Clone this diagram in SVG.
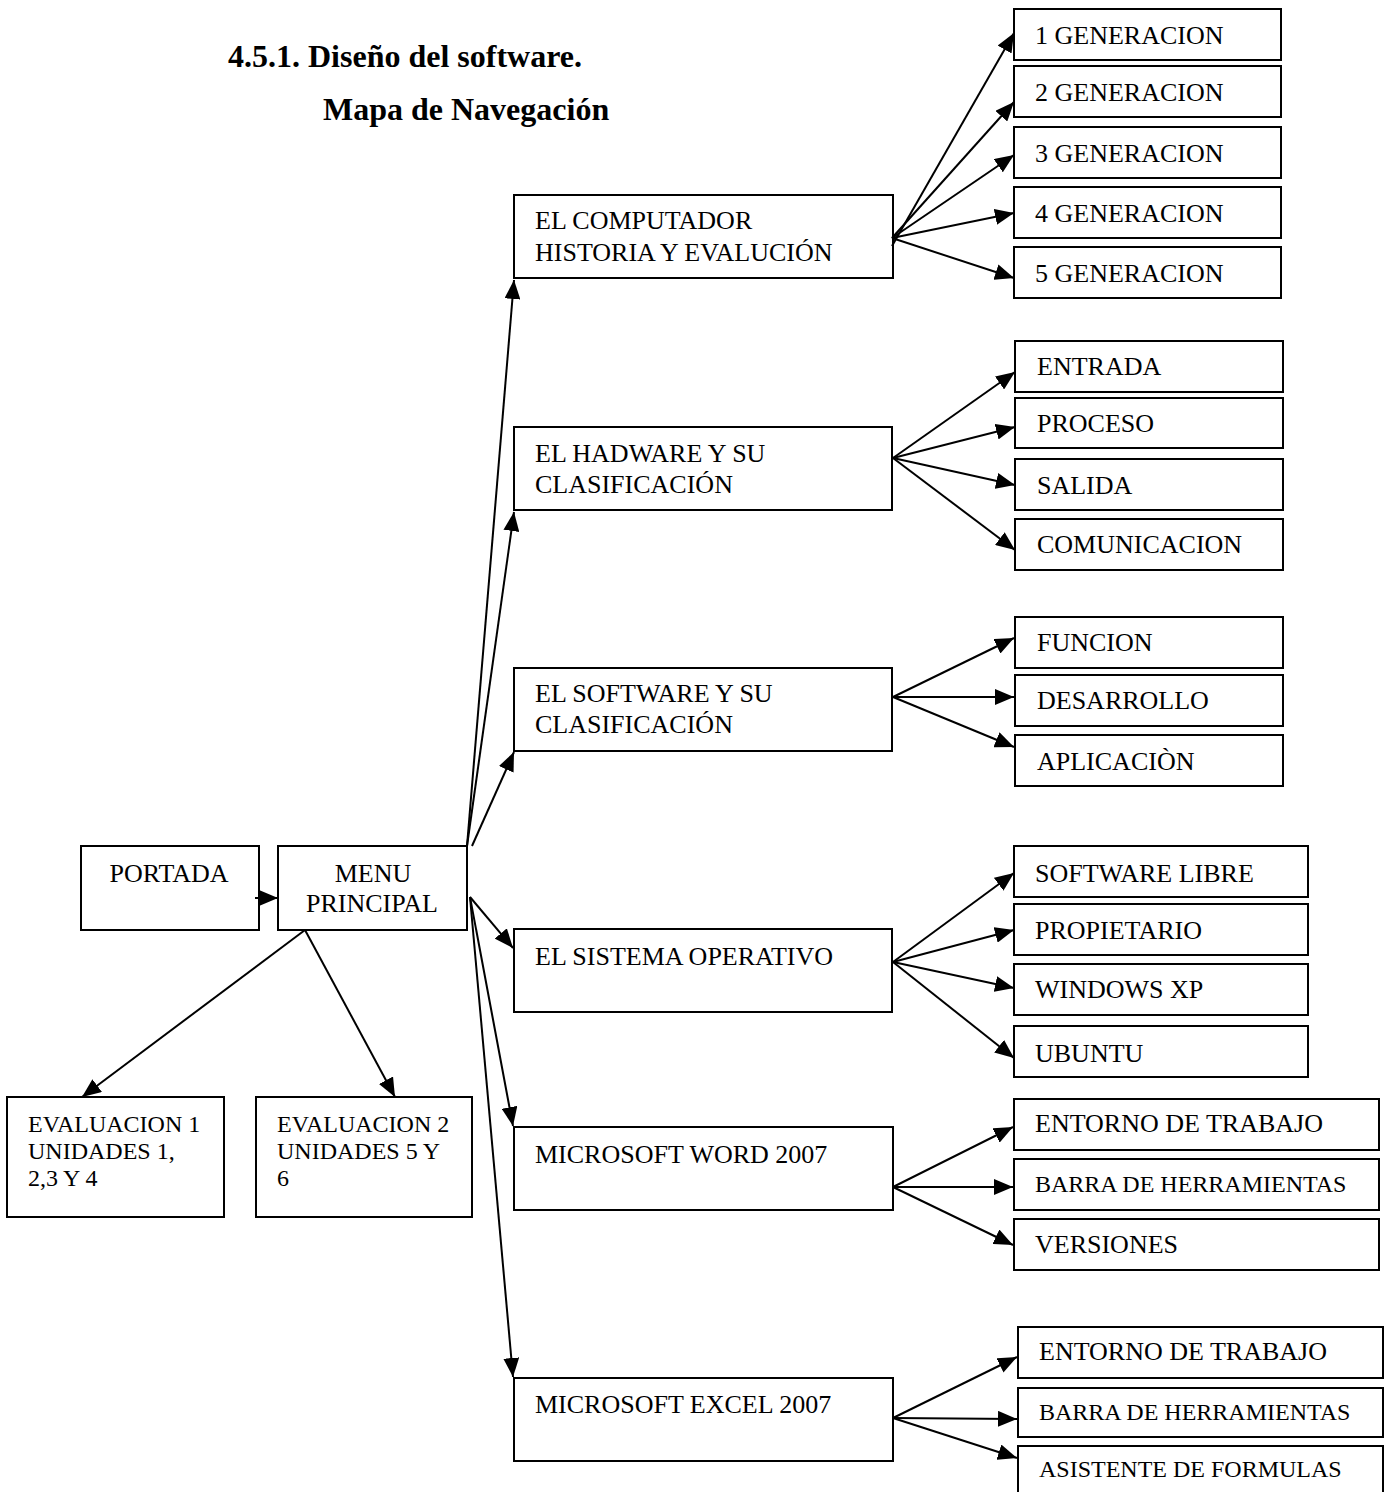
<svg xmlns="http://www.w3.org/2000/svg" width="1389" height="1492" viewBox="0 0 1389 1492">
<defs>
<style>
.b{fill:#fff;stroke:#000;stroke-width:2}
.t{font-family:"Liberation Serif","Times New Roman",serif;font-size:26px;fill:#000}
.s{font-size:24px}
.e{font-size:24px}
.h{font-family:"Liberation Serif","Times New Roman",serif;font-size:32px;font-weight:bold;fill:#000}
.c line{stroke:#000;stroke-width:2;marker-end:url(#ah)}
</style>
<marker id="ah" markerUnits="userSpaceOnUse" markerWidth="19" markerHeight="16" refX="19" refY="8" orient="auto">
<path d="M0,0 L19,8 L0,16 z" fill="#000"/>
</marker>
</defs>
<rect width="1389" height="1492" fill="#fff"/>
<text class="h" x="228" y="67">4.5.1. Diseño del software.</text>
<text class="h" x="323" y="120">Mapa de Navegación</text>

<g id="portada"><rect class="b" x="81" y="846" width="178" height="84"/><text class="t" x="169" y="882" text-anchor="middle">PORTADA</text></g>
<g id="menu"><rect class="b" x="278" y="846" width="189" height="84"/><text class="t" x="373" y="882" text-anchor="middle">MENU</text><text class="t" x="372" y="912" text-anchor="middle">PRINCIPAL</text></g>
<g id="eval1"><rect class="b" x="7" y="1097" width="217" height="120"/><text class="t e" x="28" y="1132">EVALUACION 1</text><text class="t e" x="28" y="1159">UNIDADES 1,</text><text class="t e" x="28" y="1186">2,3 Y 4</text></g>
<g id="eval2"><rect class="b" x="256" y="1097" width="216" height="120"/><text class="t e" x="277" y="1132">EVALUACION 2</text><text class="t e" x="277" y="1159">UNIDADES 5 Y</text><text class="t e" x="277" y="1186">6</text></g>

<g id="computador"><rect class="b" x="514" y="195" width="379" height="83"/><text class="t" x="535" y="229">EL COMPUTADOR</text><text class="t" x="535" y="261">HISTORIA Y EVALUCIÓN</text></g>
<g id="hadware"><rect class="b" x="514" y="427" width="378" height="83"/><text class="t" x="535" y="462">EL HADWARE Y SU</text><text class="t" x="535" y="493">CLASIFICACIÓN</text></g>
<g id="software"><rect class="b" x="514" y="668" width="378" height="83"/><text class="t" x="535" y="702">EL SOFTWARE Y SU</text><text class="t" x="535" y="733">CLASIFICACIÓN</text></g>
<g id="sistema"><rect class="b" x="514" y="929" width="378" height="83"/><text class="t" x="535" y="965">EL SISTEMA OPERATIVO</text></g>
<g id="word"><rect class="b" x="514" y="1127" width="379" height="83"/><text class="t" x="535" y="1163">MICROSOFT WORD 2007</text></g>
<g id="excel"><rect class="b" x="514" y="1378" width="379" height="83"/><text class="t" x="535" y="1413">MICROSOFT EXCEL 2007</text></g>

<g id="gen1"><rect class="b" x="1014" y="9" width="267" height="51"/><text class="t" x="1035" y="44">1 GENERACION</text></g>
<g id="gen2"><rect class="b" x="1014" y="66" width="267" height="51"/><text class="t" x="1035" y="101">2 GENERACION</text></g>
<g id="gen3"><rect class="b" x="1014" y="127" width="267" height="51"/><text class="t" x="1035" y="162">3 GENERACION</text></g>
<g id="gen4"><rect class="b" x="1014" y="187" width="267" height="51"/><text class="t" x="1035" y="222">4 GENERACION</text></g>
<g id="gen5"><rect class="b" x="1014" y="247" width="267" height="51"/><text class="t" x="1035" y="282">5 GENERACION</text></g>

<g id="entrada"><rect class="b" x="1015" y="341" width="268" height="51"/><text class="t" x="1037" y="375">ENTRADA</text></g>
<g id="proceso"><rect class="b" x="1015" y="398" width="268" height="50"/><text class="t" x="1037" y="432">PROCESO</text></g>
<g id="salida"><rect class="b" x="1015" y="459" width="268" height="51"/><text class="t" x="1037" y="494">SALIDA</text></g>
<g id="comunicacion"><rect class="b" x="1015" y="519" width="268" height="51"/><text class="t" x="1037" y="553">COMUNICACION</text></g>

<g id="funcion"><rect class="b" x="1015" y="617" width="268" height="51"/><text class="t" x="1037" y="651">FUNCION</text></g>
<g id="desarrollo"><rect class="b" x="1015" y="675" width="268" height="51"/><text class="t" x="1037" y="709">DESARROLLO</text></g>
<g id="aplicacion"><rect class="b" x="1015" y="735" width="268" height="51"/><text class="t" x="1037" y="770">APLICACIÒN</text></g>

<g id="libre"><rect class="b" x="1014" y="846" width="294" height="51"/><text class="t" x="1035" y="882">SOFTWARE LIBRE</text></g>
<g id="propietario"><rect class="b" x="1014" y="904" width="294" height="51"/><text class="t" x="1035" y="939">PROPIETARIO</text></g>
<g id="windows"><rect class="b" x="1014" y="964" width="294" height="51"/><text class="t" x="1035" y="998">WINDOWS XP</text></g>
<g id="ubuntu"><rect class="b" x="1014" y="1026" width="294" height="51"/><text class="t" x="1035" y="1062">UBUNTU</text></g>

<g id="w-entorno"><rect class="b" x="1014" y="1099" width="365" height="51"/><text class="t" x="1035" y="1132">ENTORNO DE TRABAJO</text></g>
<g id="w-barra"><rect class="b" x="1014" y="1159" width="365" height="51"/><text class="t s" x="1035" y="1192">BARRA DE HERRAMIENTAS</text></g>
<g id="w-versiones"><rect class="b" x="1014" y="1219" width="365" height="51"/><text class="t" x="1035" y="1253">VERSIONES</text></g>

<g id="x-entorno"><rect class="b" x="1018" y="1327" width="365" height="51"/><text class="t" x="1039" y="1360">ENTORNO DE TRABAJO</text></g>
<g id="x-barra"><rect class="b" x="1018" y="1388" width="365" height="49"/><text class="t s" x="1039" y="1420">BARRA DE HERRAMIENTAS</text></g>
<g id="x-asistente"><rect class="b" x="1018" y="1446" width="365" height="60"/><text class="t s" x="1039" y="1477">ASISTENTE DE FORMULAS</text></g>

<g id="connectors" class="c">
<line x1="255" y1="898" x2="278" y2="898"/>
<line x1="305" y1="930" x2="82" y2="1097"/>
<line x1="305" y1="930" x2="395" y2="1097"/>
<line x1="467" y1="846" x2="514" y2="280"/>
<line x1="467" y1="846" x2="514" y2="512"/>
<line x1="472" y1="846" x2="514" y2="752"/>
<line x1="470" y1="897" x2="513" y2="948"/>
<line x1="470" y1="897" x2="513" y2="1126"/>
<line x1="470" y1="897" x2="513" y2="1377"/>
<line x1="892" y1="246" x2="1014" y2="33"/>
<line x1="892" y1="238" x2="1014" y2="102"/>
<line x1="892" y1="238" x2="1014" y2="155"/>
<line x1="892" y1="238" x2="1014" y2="213"/>
<line x1="892" y1="238" x2="1014" y2="278"/>
<line x1="893" y1="458" x2="1015" y2="372"/>
<line x1="893" y1="458" x2="1015" y2="427"/>
<line x1="893" y1="458" x2="1015" y2="485"/>
<line x1="893" y1="458" x2="1015" y2="550"/>
<line x1="893" y1="697" x2="1014" y2="638"/>
<line x1="893" y1="697" x2="1014" y2="697"/>
<line x1="893" y1="697" x2="1014" y2="747"/>
<line x1="893" y1="962" x2="1014" y2="873"/>
<line x1="893" y1="962" x2="1014" y2="930"/>
<line x1="893" y1="962" x2="1014" y2="988"/>
<line x1="893" y1="962" x2="1014" y2="1058"/>
<line x1="893" y1="1187" x2="1013" y2="1127"/>
<line x1="893" y1="1187" x2="1013" y2="1187"/>
<line x1="893" y1="1187" x2="1013" y2="1245"/>
<line x1="893" y1="1418" x2="1017" y2="1357"/>
<line x1="893" y1="1418" x2="1017" y2="1419"/>
<line x1="893" y1="1418" x2="1017" y2="1458"/>
</g>
</svg>
